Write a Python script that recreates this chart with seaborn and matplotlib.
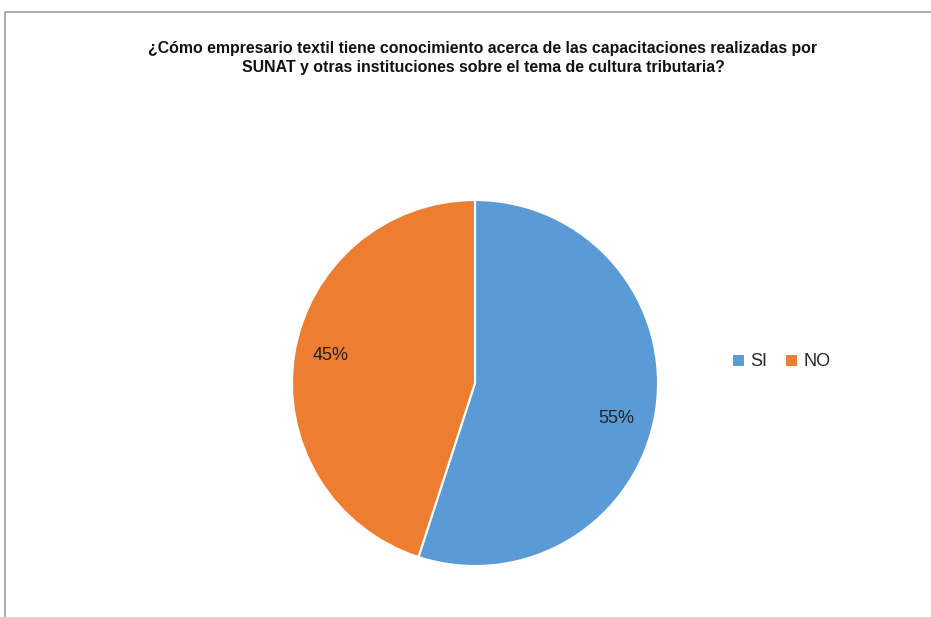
import matplotlib
matplotlib.use("Agg")
import matplotlib.pyplot as plt
import seaborn as sns
from matplotlib.patches import Rectangle

# datos
respuestas = ["SI", "NO"]
porcentajes = [55, 45]
colores = ["#5B9BD5", "#ED7D31"]
titulo = ("¿Cómo empresario textil tiene conocimiento acerca de las capacitaciones realizadas por\n"
          "SUNAT y otras instituciones sobre el tema de cultura tributaria?")

sns.set_theme(style="white")
plt.rcParams['font.family'] = ['Liberation Sans', 'DejaVu Sans']

W, H = 931, 617
fig = plt.figure(figsize=(W / 100, H / 100), dpi=100)
fig.patch.set_facecolor("white")

# marco del area del grafico (solo se ven borde superior e izquierdo)
fig.add_artist(Rectangle((5 / W, -0.1), 1.2, (H - 12) / H + 0.1,
                         transform=fig.transFigure, fill=False,
                         edgecolor="#A0A0A0", linewidth=1.2))

cx, cy, r = 475, 383, 183
ax = fig.add_axes([(cx - r) / W, (H - cy - r) / H, 2 * r / W, 2 * r / H])
wedges, texts, autotexts = ax.pie(
    porcentajes, colors=colores, startangle=90, counterclock=False,
    autopct="%1.0f%%", pctdistance=0.8,
    wedgeprops=dict(linewidth=1.5, edgecolor="white"),
    textprops=dict(fontsize=13, color="#222222"))
# etiquetas un poco desplazadas como en el original
autotexts[0].set_position((0.77, -0.195))
autotexts[1].set_position((-0.79, 0.15))
ax.set_xlim(-1, 1)
ax.set_ylim(-1, 1)
ax.set_aspect("equal")
ax.axis("off")

fig.text(483 / W, 1 - 58 / H, titulo, ha="center", va="center",
         fontsize=11.4, fontweight="bold", linespacing=1.35, color="#111111")

fig.legend(wedges, respuestas, loc="center left", bbox_to_anchor=(716 / W, 1 - 362 / H),
           ncol=2, frameon=False, fontsize=13, handlelength=0.7, handleheight=0.7,
           handletextpad=0.3, columnspacing=1.0)

fig.savefig("out.png", dpi=100)
